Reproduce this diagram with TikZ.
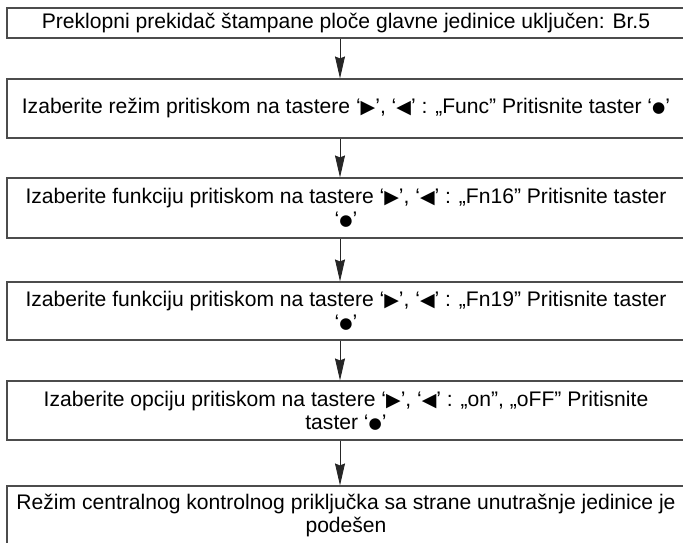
\documentclass[tikz,border=0pt]{standalone}
\usepackage{fontspec}
\setmainfont{Liberation Sans}
\newfontfamily\symfont{DejaVu Sans}
\usetikzlibrary{arrows.meta}
\definecolor{linegray}{gray}{0.3}
\newcommand{\symR}{{\symfont\scalebox{0.9}{▶}}}
\newcommand{\symL}{{\symfont\scalebox{0.9}{◀}}}
\newcommand{\symD}{{\symfont\raisebox{1.2pt}{\scalebox{0.72}{●}}}}
\begin{document}
\begin{tikzpicture}[x=1pt,y=-1pt,
  box/.style={draw=linegray, line width=1.1pt, minimum width=678pt, inner sep=0pt, align=center,
    font=\fontsize{21.1}{23}\selectfont},
  arr/.style={draw=black!85, line width=0.9pt, -{Stealth[length=22pt,width=10pt,inset=2pt]}}]
\useasboundingbox (0,0) rectangle (683,542);
\clip (0,0) rectangle (683,542);
\node[box, minimum height=30pt] (b1) at (346,23) {Preklopni prekidač štampane ploče glavne jedinice uključen: Br.5};
\node[box, minimum height=59pt] (b2) at (346,108.5) {Izaberite režim pritiskom na tastere ‘\symR’, ‘\symL’ : „Func” Pritisnite taster ‘\symD’};
\node[box, minimum height=60pt] (b3) at (346,208) {Izaberite funkciju pritiskom na tastere ‘\symR’, ‘\symL’ : „Fn16” Pritisnite taster\\ ‘\symD’};
\node[box, minimum height=58pt] (b4) at (346,311) {Izaberite funkciju pritiskom na tastere ‘\symR’, ‘\symL’ : „Fn19” Pritisnite taster\\ ‘\symD’};
\node[box, minimum height=59pt] (b5) at (346,410.5) {Izaberite opciju pritiskom na tastere ‘\symR’, ‘\symL’ : „on”, „oFF” Pritisnite\\ taster ‘\symD’};
\node[box, minimum height=59pt] (b6) at (346,515.5) {Režim centralnog kontrolnog priključka sa strane unutrašnje jedinice je\\ podešen};
\draw[arr] ([xshift=-6pt]b1.south) -- ([xshift=-6pt]b2.north);
\draw[arr] ([xshift=-6pt]b2.south) -- ([xshift=-6pt]b3.north);
\draw[arr] ([xshift=-6pt]b3.south) -- ([xshift=-6pt]b4.north);
\draw[arr] ([xshift=-6pt]b4.south) -- ([xshift=-6pt]b5.north);
\draw[arr] ([xshift=-6pt]b5.south) -- ([xshift=-6pt]b6.north);
\end{tikzpicture}
\end{document}
